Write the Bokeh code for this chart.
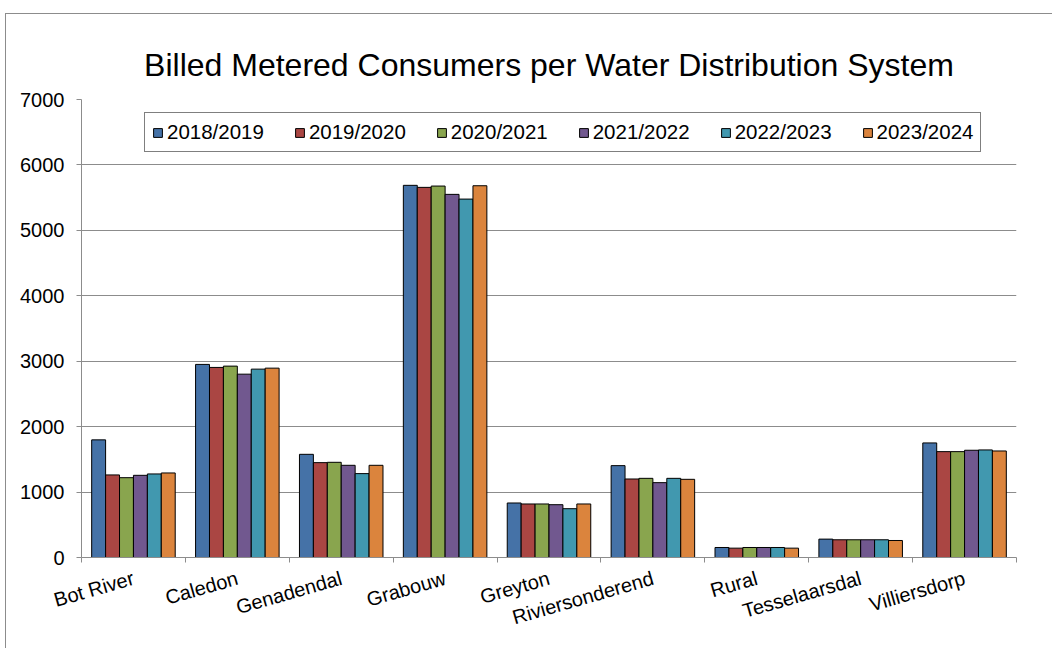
from bokeh.plotting import figure
from bokeh.models import ColumnDataSource, FixedTicker, Range1d, Legend, LegendItem
from bokeh.embed import file_html
from bokeh.resources import INLINE

systems = ["Bot River", "Caledon", "Genadendal", "Grabouw", "Greyton",
           "Riviersonderend", "Rural", "Tesselaarsdal", "Villiersdorp"]
years = ["2018/2019", "2019/2020", "2020/2021", "2021/2022", "2022/2023", "2023/2024"]

y2018_2019 = [1798, 2951, 1577, 5688, 833, 1404, 153, 281, 1751]
y2019_2020 = [1262, 2905, 1450, 5657, 818, 1200, 143, 271, 1618]
y2020_2021 = [1220, 2925, 1455, 5677, 818, 1210, 153, 271, 1618]
y2021_2022 = [1256, 2802, 1409, 5550, 807, 1144, 153, 271, 1639]
y2022_2023 = [1277, 2879, 1282, 5478, 746, 1210, 153, 271, 1644]
y2023_2024 = [1292, 2894, 1409, 5682, 818, 1195, 143, 260, 1628]
series = [y2018_2019, y2019_2020, y2020_2021, y2021_2022, y2022_2023, y2023_2024]

colors = ["#4572A7", "#AA4643", "#89A54E", "#71588F", "#4198AF", "#DB843D"]
y_ticks = [0, 1000, 2000, 3000, 4000, 5000, 6000, 7000]

FONT = "Liberation Sans"
GRAY = "#8c8c8c"

p = figure(width=1047, height=635, output_backend="svg", toolbar_location=None,
           x_range=Range1d(0, len(systems)), y_range=Range1d(0, 7000),
           min_border_left=75, min_border_right=37, min_border_top=85, min_border_bottom=92,
           title="Billed Metered Consumers per Water Distribution System",
           margin=(13, 0, 0, 5),
           styles={"border-left": f"1px solid {GRAY}", "border-top": f"1px solid {GRAY}"})
p.outline_line_color = None
p.background_fill_color = "white"
p.border_fill_color = "white"

p.title.text_font = FONT
p.title.text_font_size = "32px"
p.title.text_font_style = "normal"
p.title.text_color = "black"
p.title.align = "center"
p.title.standoff = 34

bar_w = 0.134
centers = [i + 0.5 for i in range(len(systems))]
items = []
for k, (yr, vals, c) in enumerate(zip(years, series, colors)):
    xs = [cx + (k - 2.5) * bar_w for cx in centers]
    src = ColumnDataSource(dict(x=xs, top=vals))
    r = p.vbar(x="x", top="top", width=bar_w, source=src, fill_color=c,
               line_color="black", line_width=1)
    items.append(LegendItem(label=yr, renderers=[r]))

legend = Legend(items=items, orientation="horizontal", location=(63, 405),
                glyph_width=11, glyph_height=11, label_standoff=4, spacing=30,
                padding=7, margin=0, border_line_color="black", border_line_width=1,
                label_text_font=FONT, label_text_font_size="20.5px", label_text_color="black",
                background_fill_alpha=1)
p.add_layout(legend, "center")

# y axis
p.yaxis.ticker = FixedTicker(ticks=y_ticks)
p.yaxis.axis_line_color = GRAY
p.yaxis.major_tick_line_color = GRAY
p.yaxis.major_tick_out = 5
p.yaxis.major_tick_in = 0
p.yaxis.minor_tick_line_color = None
p.yaxis.major_label_standoff = 12
p.yaxis.major_label_text_font = FONT
p.yaxis.major_label_text_font_size = "20px"
p.yaxis.major_label_text_color = "black"

# x axis: labels at centers, ticks at boundaries
p.xaxis.ticker = FixedTicker(ticks=centers, minor_ticks=list(range(len(systems) + 1)))
p.xaxis.major_label_overrides = {c: s for c, s in zip(centers, systems)}
p.xaxis.axis_line_color = GRAY
p.xaxis.major_tick_line_color = None
p.xaxis.minor_tick_line_color = GRAY
p.xaxis.minor_tick_out = 5
p.xaxis.minor_tick_in = 0
p.xaxis.major_label_orientation = 0.28
p.xaxis.major_label_standoff = 14
p.xaxis.major_label_text_font = FONT
p.xaxis.major_label_text_font_size = "20px"
p.xaxis.major_label_text_color = "black"

p.xgrid.grid_line_color = None
p.ygrid.ticker = FixedTicker(ticks=y_ticks)
p.ygrid.grid_line_color = GRAY
p.ygrid.grid_line_width = 1

open("out.html", "w").write(file_html(p, INLINE))
